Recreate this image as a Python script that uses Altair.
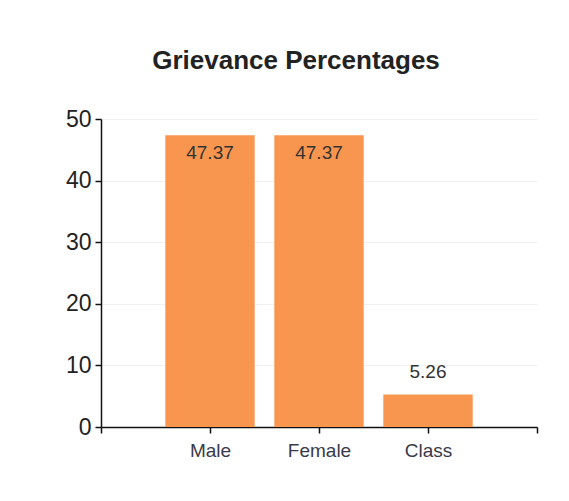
import json
import altair as alt
import pandas as pd

categories = ["Male", "Female", "Class"]
values = [47.37, 47.37, 5.26]

df = pd.DataFrame({"category": categories, "value": values})
df["idx"] = range(1, len(categories) + 1)

tick_labels = [""] + categories + [""]
label_expr = json.dumps(tick_labels) + "[datum.value]"

FONT = "Liberation Sans"

base = alt.Chart(df)

x_enc = alt.X(
    "x0:Q",
    scale=alt.Scale(domain=[0, len(categories) + 1], nice=False, zero=False),
    axis=alt.Axis(
        values=list(range(0, len(categories) + 2)),
        labelExpr=label_expr,
        title=None,
        grid=False,
        domainColor="#111",
        domainWidth=1.5,
        tickColor="#111",
        tickWidth=1.5,
        tickSize=6,
        labelFont=FONT,
        labelFontSize=19,
        labelColor="#3a3a4a",
        labelPadding=8,
    ),
)

bars = base.transform_calculate(
    x0="datum.idx - 0.41", x1="datum.idx + 0.41"
).mark_bar(color="#F8964F").encode(
    x=x_enc,
    x2="x1:Q",
    y=alt.Y(
        "value:Q",
        scale=alt.Scale(domain=[0, 50], nice=False),
        axis=alt.Axis(
            values=[0, 10, 20, 30, 40, 50],
            title=None,
            grid=True,
            gridColor="#f0f0f0",
            gridWidth=1,
            domainColor="#111",
            domainWidth=1.5,
            tickColor="#111",
            tickWidth=1.5,
            tickSize=6,
            labelFont=FONT,
            labelFontSize=23,
            labelColor="#222",
            labelPadding=4,
        ),
    ),
    y2=alt.datum(0),
)

inner = base.transform_filter("datum.value > 10").transform_calculate(
    x0="datum.idx"
).mark_text(
    font=FONT, fontSize=19, color="#333", baseline="alphabetic", dy=24
).encode(x="x0:Q", y="value:Q", text=alt.Text("value:Q", format=".2f"))

outer = base.transform_filter("datum.value <= 10").transform_calculate(
    x0="datum.idx"
).mark_text(
    font=FONT, fontSize=19, color="#333", baseline="alphabetic", dy=-17
).encode(x="x0:Q", y="value:Q", text=alt.Text("value:Q", format=".2f"))

chart = alt.layer(bars, inner, outer).properties(
    width=436,
    height=308,
    background="white",
    title=alt.TitleParams(
        "Grievance Percentages",
        font=FONT,
        fontSize=26,
        fontWeight="bold",
        color="#222",
        anchor="middle",
        frame="group",
        dx=-23,
        offset=34,
    ),
    autosize=alt.AutoSizeParams(type="none"),
    padding={"left": 93, "top": 111, "right": 24, "bottom": 66},
).configure_view(strokeWidth=0, stroke="transparent").configure_axisX(grid=False)

chart.save("out.html", embed_options={"renderer": "svg", "actions": False})
